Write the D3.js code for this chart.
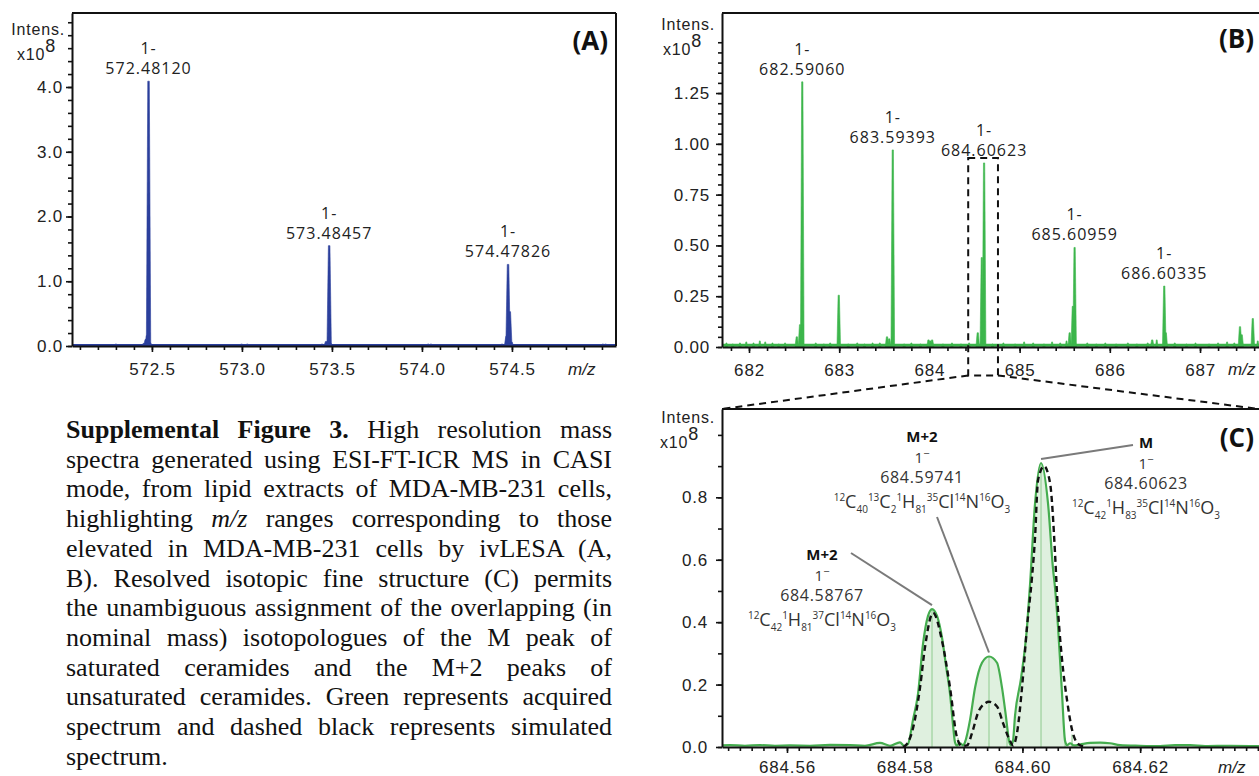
<!DOCTYPE html>
<html>
<head>
<meta charset="utf-8">
<script src="https://cdn.jsdelivr.net/npm/d3@7"></script>
<style>
  body { margin: 0; background: #fff; }
  svg { display: block; }
  .tick text { font-family: "Liberation Sans", Arial, sans-serif; font-size: 17px; fill: #222; letter-spacing: 0.8px; }
  .domain { stroke: #111; stroke-width: 2; }
  .tick line { stroke: #111; stroke-width: 1.6; }
</style>
</head>
<body>
<svg id="fig" width="1259" height="776"></svg>
<script>
// ---------- data (intensity in units of 1e8) ----------

// panel A, centroid sticks [m/z, intensity]
const peaksA = [
  [572.300, 0.03], [572.455, 0.04], [572.466, 0.10], [572.473, 0.16], [572.48120, 4.09], [572.489, 0.05],
  [572.998, 0.03], [573.010, 0.02], [573.030, 0.03],
  [573.445, 0.03], [573.468, 0.07], [573.48457, 1.55], [573.492, 0.04],
  [574.035, 0.03], [574.050, 0.03],
  [574.445, 0.03], [574.470, 0.15], [574.47826, 1.26], [574.488, 0.53], [574.497, 0.06],
  [575.005, 0.03], [575.020, 0.03]
]
const labelsA = [[572.48120, 4.09], [573.48457, 1.55], [574.47826, 1.26]]
const xMajorA = [572.5, 573.0, 573.5, 574.0, 574.5]
const yMajorA = [0, 1, 2, 3, 4]

// panel B
const peaksB = [
  [682.530, 0.05], [682.566, 0.11], [682.59060, 1.305],
  [682.995, 0.255],
  [683.530, 0.05], [683.555, 0.04], [683.59393, 0.97],
  [683.990, 0.035], [684.010, 0.03], [684.030, 0.035],
  [684.536, 0.07], [684.581, 0.44], [684.60623, 0.906],
  [685.555, 0.07], [685.590, 0.20], [685.60959, 0.49],
  [686.470, 0.035], [686.60335, 0.30], [686.620, 0.07],
  [687.443, 0.10], [687.462, 0.06], [687.585, 0.14]
]
const noiseB = [
  [681.75, 0.02], [681.82, 0.015], [681.90, 0.02], [681.97, 0.025], [682.05, 0.02], [682.12, 0.03],
  [682.18, 0.025], [682.26, 0.02], [682.33, 0.015], [682.40, 0.02], [682.74, 0.02], [682.83, 0.015],
  [682.90, 0.02], [683.10, 0.015], [683.20, 0.02], [683.28, 0.015], [683.37, 0.02], [683.45, 0.02],
  [683.72, 0.015], [683.80, 0.02], [683.90, 0.015], [684.15, 0.015], [684.25, 0.02], [684.35, 0.015],
  [684.44, 0.02], [684.70, 0.015], [684.82, 0.02], [684.95, 0.015], [685.05, 0.025], [685.15, 0.02],
  [685.27, 0.015], [685.36, 0.025], [685.45, 0.02], [685.52, 0.03], [685.75, 0.02], [685.85, 0.015],
  [685.95, 0.02], [686.07, 0.015], [686.20, 0.02], [686.30, 0.015], [686.42, 0.02], [686.52, 0.035],
  [686.72, 0.02], [686.85, 0.015], [686.95, 0.02], [687.10, 0.015], [687.20, 0.02], [687.30, 0.025],
  [687.38, 0.02], [687.64, 0.03]
]
const labelsB = [[682.59060, 1.305], [683.59393, 0.97], [684.60623, 0.906], [685.60959, 0.49], [686.60335, 0.30]]
const xMajorB = [682, 683, 684, 685, 686, 687]
const yMajorB = [0, 0.25, 0.5, 0.75, 1.0, 1.25]

// panel C, profile curves [m/z, intensity]
const acquiredC = [
  [684.54896, 0.005], [684.55031, 0.006], [684.55286, 0.004], [684.55541, 0.006], [684.55796, 0.004],
  [684.56051, 0.005], [684.56391, 0.004], [684.56731, 0.007], [684.57071, 0.006], [684.57325, 0.004],
  [684.57580, 0.013], [684.57750, 0.004], [684.57920, 0.015], [684.57988, 0.004],
  [684.58056, 0.010], [684.58141, 0.087], [684.58226, 0.17], [684.58311, 0.33], [684.58396, 0.42],
  [684.58464, 0.442], [684.58549, 0.42], [684.58634, 0.35], [684.58702, 0.26], [684.58770, 0.17],
  [684.58821, 0.07], [684.58855, 0.015], [684.58889, 0.005], [684.58940, 0.012], [684.58991, 0.005],
  [684.59025, 0.016], [684.59110, 0.087], [684.59195, 0.19], [684.59313, 0.27], [684.59432, 0.29],
  [684.59568, 0.27], [684.59653, 0.19], [684.59721, 0.096], [684.59772, 0.02], [684.59806, 0.006],
  [684.59840, 0.02], [684.59874, 0.10], [684.59976, 0.22], [684.60078, 0.385], [684.60129, 0.52],
  [684.60214, 0.78], [684.60316, 0.91], [684.60435, 0.78], [684.60520, 0.57], [684.60554, 0.51],
  [684.60605, 0.385], [684.60673, 0.17], [684.60724, 0.02], [684.60758, 0.006], [684.60809, 0.012],
  [684.60877, 0.005], [684.60979, 0.008], [684.61149, 0.013], [684.61319, 0.014], [684.61488, 0.012],
  [684.61658, 0.006], [684.61998, 0.004], [684.62338, 0.003], [684.62593, 0.006], [684.62848, 0.006],
  [684.63103, 0.003], [684.63527, 0.004], [684.64037, 0.003]
]
const simulatedC = [
  [684.57971, 0.0], [684.58039, 0.01], [684.58141, 0.06], [684.58260, 0.19], [684.58345, 0.32],
  [684.58481, 0.43], [684.58634, 0.34], [684.58770, 0.19], [684.58889, 0.03], [684.58974, 0.003],
  [684.59059, 0.005], [684.59144, 0.045], [684.59246, 0.11], [684.59364, 0.14], [684.59432, 0.145],
  [684.59568, 0.13], [684.59670, 0.077], [684.59789, 0.02], [684.59840, 0.005], [684.59908, 0.045],
  [684.59993, 0.19], [684.60078, 0.385], [684.60163, 0.545], [684.60214, 0.67], [684.60265, 0.855],
  [684.60367, 0.90], [684.60469, 0.846], [684.60554, 0.62], [684.60588, 0.49], [684.60673, 0.28],
  [684.60758, 0.15], [684.60843, 0.055], [684.60945, 0.01], [684.61064, 0.0]
]
const centroidsC = [
  [684.58464, 0.44], [684.58906, 0.03], [684.59432, 0.29], [684.59738, 0.03],
  [684.60316, 0.91], [684.60724, 0.03], [684.60843, 0.04]
]
const xMajorC = [684.56, 684.58, 684.60, 684.62]
const yMajorC = [0, 0.2, 0.4, 0.6, 0.8]

// assignments in panel C
const assignC = [
  { tag: "M+2", mz: "684.59741", peak: [684.59432, 0.29],
    formula: [["12", "C", "40"], ["13", "C", "2"], ["1", "H", "81"], ["35", "Cl", ""], ["14", "N", ""], ["16", "O", "3"]] },
  { tag: "M+2", mz: "684.58767", peak: [684.58464, 0.442],
    formula: [["12", "C", "42"], ["1", "H", "81"], ["37", "Cl", ""], ["14", "N", ""], ["16", "O", "3"]] },
  { tag: "M", mz: "684.60623", peak: [684.60316, 0.91],
    formula: [["12", "C", "42"], ["1", "H", "83"], ["35", "Cl", ""], ["14", "N", ""], ["16", "O", "3"]] }
]
// where each assignment block sits, and where its leader line starts
const assignPos = [
  { x: 922, y: 442, lx: 937, ly: 517 },
  { x: 822, y: 560, lx: 851, ly: 553 },
  { x: 1146, y: 448, lx: 1133, ly: 445 }
]

const caption = [
  [["b", "Supplemental Figure 3."], ["n", " High resolution mass"]],
  [["n", "spectra generated using ESI-FT-ICR MS in CASI"]],
  [["n", "mode, from lipid extracts of MDA-MB-231 cells,"]],
  [["n", "highlighting "], ["i", "m/z"], ["n", " ranges corresponding to those"]],
  [["n", "elevated in MDA-MB-231 cells by ivLESA (A,"]],
  [["n", "B). Resolved isotopic fine structure (C) permits"]],
  [["n", "the unambiguous assignment of the overlapping (in"]],
  [["n", "nominal mass) isotopologues of the M peak of"]],
  [["n", "saturated ceramides and the M+2 peaks of"]],
  [["n", "unsaturated ceramides. Green represents acquired"]],
  [["n", "spectrum and dashed black represents simulated"]],
  [["n", "spectrum."]]
]

// ---------- drawing ----------
const svg = d3.select("#fig")
const blue = "#2b3f9c", green = "#3cb64b", greenC = "#45ad4f", fillC = "#dff0df"
const labFont = "'Open Sans', sans-serif"

const xA = d3.scaleLinear().domain([572.056, 575.078]).range([72, 616])
const yA = d3.scaleLinear().domain([0, 5.143]).range([346, 13])
const xB = d3.scaleLinear().domain([681.7007, 687.687]).range([722, 1262])
const yB = d3.scaleLinear().domain([0, 1.644]).range([347, 13])
const xC = d3.scaleLinear().domain([684.54896, 684.6407]).range([722, 1262])
const yC = d3.scaleLinear().domain([0, 1.083]).range([747, 409])

const range = (a, b, s) => d3.range(Math.round(a / s), Math.round(b / s) + 1).map(i => +(i * s).toFixed(4))

function axes(x, y, o) {
  const g = svg.append("g")
  const yb = y.range()[0], xl = x.range()[0]
  g.append("g").attr("transform", `translate(0,${yb})`)
    .call(d3.axisBottom(x).tickValues(o.xMinor).tickSize(4).tickSizeOuter(0).tickFormat(""))
  g.append("g").attr("transform", `translate(0,${yb})`)
    .call(d3.axisBottom(x).tickValues(o.xMajor).tickSize(6).tickSizeOuter(0).tickPadding(o.xPad).tickFormat(o.xFmt))
    .call(a => a.select(".domain").remove())
  g.append("g").attr("transform", `translate(${xl},0)`)
    .call(d3.axisLeft(y).tickValues(o.yMinor).tickSize(4).tickSizeOuter(0).tickFormat(""))
  g.append("g").attr("transform", `translate(${xl},0)`)
    .call(d3.axisLeft(y).tickValues(o.yMajor).tickSize(6).tickSizeOuter(0).tickPadding(o.yPad).tickFormat(o.yFmt))
    .call(a => a.select(".domain").remove())
  // intensity label
  const t = g.append("g").attr("font-family", "'Liberation Sans', Arial, sans-serif")
    .attr("font-size", 16).attr("fill", "#222").attr("letter-spacing", 0.8)
  t.append("text").attr("x", xl - 7).attr("y", o.intY).attr("text-anchor", "end").text("Intens.")
  const xt = t.append("text").attr("x", o.expX).attr("y", o.intY + 25)
  xt.append("tspan").text("x10")
  xt.append("tspan").attr("dy", -8).attr("font-size", 18).text("8")
  // m/z
  g.append("text").attr("x", o.mzX).attr("y", yb + o.mzDy)
    .attr("font-family", "'Liberation Sans', Arial, sans-serif").attr("font-style", "italic")
    .attr("font-size", 17).attr("fill", "#222").text("m/z")
  return g
}

function frame(x, y, right) {
  const [x0, x1] = x.range(), top = y.range()[1], bot = y.range()[0]
  svg.append("line").attr("x1", x0).attr("x2", Math.min(x1, 1259)).attr("y1", top).attr("y2", top)
    .attr("stroke", "#111").attr("stroke-width", 2.2)
  if (right) svg.append("line").attr("x1", x1).attr("x2", x1).attr("y1", top).attr("y2", bot)
    .attr("stroke", "#111").attr("stroke-width", 2)
}

function sticks(x, y, data, color, w) {
  svg.append("g").selectAll("path").data(data).join("path")
    .attr("d", d => {
      const cx = x(d[0]), t = y(d[1]), b = y(0)
      return `M${cx - w},${b}L${cx - w * 0.35},${t}L${cx + w * 0.35},${t}L${cx + w},${b}Z`
    })
    .attr("fill", color).attr("stroke", color).attr("stroke-width", 0.6)
}

function peakLabels(x, y, data, size, spacing) {
  const g = svg.append("g").attr("font-family", labFont).attr("font-size", size)
    .attr("fill", "#222").attr("text-anchor", "middle").attr("letter-spacing", spacing)
  g.selectAll("text.n").data(data).join("text").attr("class", "n")
    .attr("x", d => x(d[0])).attr("y", d => y(d[1]) - 7).text(d => d[0].toFixed(5))
  g.selectAll("text.c").data(data).join("text").attr("class", "c")
    .attr("x", d => x(d[0])).attr("y", d => y(d[1]) - 27).text("1-")
}

function panelLetter(txt, x, y) {
  svg.append("text").attr("x", x).attr("y", y).attr("text-anchor", "end")
    .attr("font-family", labFont).attr("font-weight", 700).attr("font-size", 26).attr("fill", "#111").text(txt)
}

// ---- panel A ----
sticks(xA, yA, peaksA, blue, 2.2)
svg.append("line").attr("x1", xA.range()[0]).attr("x2", xA.range()[1]).attr("y1", yA(0) - 1).attr("y2", yA(0) - 1)
  .attr("stroke", blue).attr("stroke-width", 2)
axes(xA, yA, {
  xMinor: range(572.1, 575.0, 0.1), xMajor: xMajorA, xFmt: d3.format(".1f"), xPad: 11,
  yMinor: range(0, 5.0, 0.2), yMajor: yMajorA, yFmt: d3.format(".1f"), yPad: 3,
  intY: 35, expX: 17, mzX: 568, mzDy: 29
})
frame(xA, yA, true)
peakLabels(xA, yA, labelsA, 16, 1)
panelLetter("(A)", 608, 50)

// ---- panel B ----
svg.append("line").attr("x1", xB.range()[0]).attr("x2", 1259).attr("y1", yB(0.008)).attr("y2", yB(0.008))
  .attr("stroke", green).attr("stroke-width", 3)
sticks(xB, yB, noiseB, green, 1.2)
sticks(xB, yB, peaksB, green, 1.8)
axes(xB, yB, {
  xMinor: range(681.8, 687.6, 0.2), xMajor: xMajorB, xFmt: d3.format("d"), xPad: 11,
  yMinor: range(0, 1.5, 0.05), yMajor: yMajorB, yFmt: d3.format(".2f"), yPad: 6,
  intY: 30, expX: 663, mzX: 1228, mzDy: 28
})
frame(xB, yB, false)
peakLabels(xB, yB, labelsB, 16, 1)
panelLetter("(B)", 1254, 48)

// zoom box and connecting lines
const zb = { x0: xB(684.43), x1: xB(684.76), y0: yB(0.93), y1: yB(-0.14) }
const dash = g => g.attr("fill", "none").attr("stroke", "#111").attr("stroke-width", 2).attr("stroke-dasharray", "7,5")
svg.append("rect").attr("x", zb.x0).attr("y", zb.y0).attr("width", zb.x1 - zb.x0).attr("height", zb.y1 - zb.y0).call(dash)
svg.append("line").attr("x1", zb.x0).attr("y1", zb.y1).attr("x2", xC.range()[0]).attr("y2", yC.range()[1]).call(dash)
svg.append("line").attr("x1", zb.x1).attr("y1", zb.y1).attr("x2", 1259).attr("y2", yC.range()[1]).call(dash)

// ---- panel C ----
const areaC = d3.area().x(d => xC(d[0])).y0(yC(0)).y1(d => yC(d[1])).curve(d3.curveMonotoneX)
const lineC = d3.line().x(d => xC(d[0])).y(d => yC(d[1])).curve(d3.curveMonotoneX)
svg.append("path").datum(acquiredC).attr("d", areaC).attr("fill", fillC)
svg.append("g").selectAll("line").data(centroidsC).join("line")
  .attr("x1", d => xC(d[0])).attr("x2", d => xC(d[0])).attr("y1", yC(0)).attr("y2", d => yC(d[1]))
  .attr("stroke", "#a9d7a9").attr("stroke-width", 1.5)
svg.append("path").datum(acquiredC).attr("d", lineC).attr("fill", "none").attr("stroke", greenC).attr("stroke-width", 2.2)
svg.append("path").datum(simulatedC).attr("d", lineC).attr("fill", "none").attr("stroke", "#111")
  .attr("stroke-width", 2.4).attr("stroke-dasharray", "6,4")
axes(xC, yC, {
  xMinor: range(684.550, 684.640, 0.002), xMajor: xMajorC, xFmt: d3.format(".2f"), xPad: 8,
  yMinor: range(0, 1.0, 0.1), yMajor: yMajorC, yFmt: d3.format(".1f"), yPad: 8,
  intY: 423, expX: 660, mzX: 1218, mzDy: 26
})
frame(xC, yC, false)
panelLetter("(C)", 1254, 447)

// assignment labels, stacked lines: tag, charge, m/z, formula
assignC.forEach((a, i) => {
  const p = assignPos[i]
  svg.append("line").attr("x1", p.lx).attr("y1", p.ly).attr("x2", xC(a.peak[0])).attr("y2", yC(a.peak[1]) - 4)
    .attr("stroke", "#7a7a7a").attr("stroke-width", 2)
  const g = svg.append("g").attr("font-family", labFont).attr("fill", "#333").attr("text-anchor", "middle")
  g.append("text").attr("x", p.x).attr("y", p.y).attr("font-size", 15).attr("font-weight", 700).attr("fill", "#111").text(a.tag)
  const c = g.append("text").attr("x", p.x).attr("y", p.y + 21).attr("font-size", 15)
  c.append("tspan").text("1")
  c.append("tspan").attr("dy", -6).attr("font-size", 11).text("\u2212")
  g.append("text").attr("x", p.x).attr("y", p.y + 41).attr("font-size", 16).attr("letter-spacing", 0.7).text(a.mz)
  const f = g.append("text").attr("x", p.x).attr("y", p.y + 66).attr("font-size", 17)
  let shift = 0
  a.formula.forEach(part => {
    if (part[0]) { f.append("tspan").attr("font-size", 10).attr("dy", -7 - shift).text(part[0]); shift = -7 }
    f.append("tspan").attr("font-size", 18).attr("dy", -shift).text(part[1]); shift = 0
    if (part[2]) { f.append("tspan").attr("font-size", 10).attr("dy", 5).text(part[2]); shift = 5 }
  })
})

// ---- caption, justified ----
const capX = 66, capW = 546, capY = 438, capLH = 29.7
caption.forEach((line, i) => {
  const t = svg.append("text").attr("x", capX).attr("y", capY + i * capLH)
    .attr("font-family", "'Liberation Serif', 'Times New Roman', serif").attr("font-size", 26).attr("fill", "#111")
  line.forEach(s => {
    t.append("tspan").attr("font-weight", s[0] === "b" ? 700 : 400)
      .attr("font-style", s[0] === "i" ? "italic" : "normal").text(s[1])
  })
  if (i < caption.length - 1) {
    const len = t.node().getComputedTextLength()
    const gaps = line.map(s => s[1]).join("").split(" ").length - 1
    if (len < capW) t.style("word-spacing", ((capW - len) / gaps) + "px")
    else t.attr("textLength", capW).attr("lengthAdjust", "spacingAndGlyphs")
  }
})
</script>
</body>
</html>
